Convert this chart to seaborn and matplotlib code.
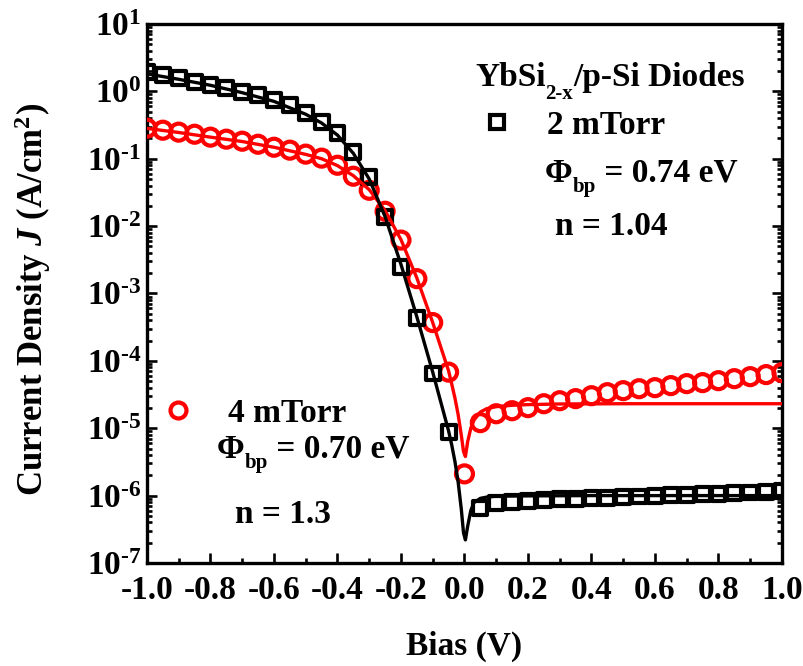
import matplotlib
matplotlib.use("Agg")
import matplotlib.pyplot as plt
import seaborn as sns
import pandas as pd
from matplotlib.lines import Line2D
from matplotlib.ticker import LogLocator, MultipleLocator, NullFormatter

# ---------------- data ----------------
bias_2mT = [-1.0, -0.95, -0.9, -0.85, -0.8, -0.75, -0.7, -0.65, -0.6, -0.55,
            -0.5, -0.45, -0.4, -0.35, -0.3, -0.25, -0.2, -0.15, -0.1, -0.05,
            0.05, 0.1, 0.15, 0.2, 0.25, 0.3, 0.35, 0.4, 0.45, 0.5,
            0.55, 0.6, 0.65, 0.7, 0.75, 0.8, 0.85, 0.9, 0.95, 1.0]
J_2mT = [1.93, 1.75, 1.57, 1.37, 1.24, 1.12, 0.975, 0.88, 0.74, 0.625,
         0.475, 0.35, 0.24, 0.125, 0.054, 0.0138, 2.5e-3, 4.3e-4, 6.5e-5, 8.9e-6,
         6.6e-7, 7.7e-7, 8.1e-7, 8.4e-7, 8.6e-7, 8.8e-7, 8.9e-7, 9.1e-7, 9.3e-7, 9.5e-7,
         9.7e-7, 9.9e-7, 1.01e-6, 1.03e-6, 1.05e-6, 1.07e-6, 1.09e-6, 1.11e-6, 1.13e-6, 1.16e-6]

bias_4mT = [-1.0, -0.95, -0.9, -0.85, -0.8, -0.75, -0.7, -0.65, -0.6, -0.55,
            -0.5, -0.45, -0.4, -0.35, -0.3, -0.25, -0.2, -0.15, -0.1, -0.05, 0.0,
            0.05, 0.1, 0.15, 0.2, 0.25, 0.3, 0.35, 0.4, 0.45, 0.5,
            0.55, 0.6, 0.65, 0.7, 0.75, 0.8, 0.85, 0.9, 0.95, 1.0]
J_4mT = [0.284, 0.265, 0.248, 0.231, 0.209, 0.195, 0.182, 0.164, 0.148, 0.134,
         0.117, 0.102, 0.080, 0.055, 0.034, 0.0166, 6.2e-3, 1.66e-3, 3.7e-4, 6.8e-5, 2.1e-6,
         1.21e-5, 1.64e-5, 1.82e-5, 2.02e-5, 2.31e-5, 2.56e-5, 2.75e-5, 3.04e-5, 3.37e-5, 3.61e-5,
         3.86e-5, 4.0e-5, 4.29e-5, 4.59e-5, 4.75e-5, 5.08e-5, 5.44e-5, 5.83e-5, 6.25e-5, 6.68e-5]

fit_bias_2mT = [-1.0, -0.9, -0.8, -0.7, -0.6, -0.5, -0.45, -0.4, -0.35, -0.3, -0.25,
                -0.2, -0.15, -0.1, -0.05, -0.04, -0.03, -0.02, -0.01, -0.003,
                0.003, 0.01, 0.02, 0.03, 0.05, 0.07, 0.1, 0.2, 0.4, 0.6, 0.8, 1.0]
fit_J_2mT = [1.82, 1.51, 1.23, 0.955, 0.71, 0.457, 0.339, 0.224, 0.12, 0.050, 0.0138,
             2.7e-3, 4.5e-4, 6.8e-5, 9.1e-6, 5.6e-6, 3.2e-6, 1.6e-6, 6.3e-7, 2.8e-7,
             2.2e-7, 3.5e-7, 6.0e-7, 7.9e-7, 9.1e-7, 9.5e-7, 9.8e-7, 9.9e-7, 1.0e-6, 1.0e-6, 1.0e-6, 1.0e-6]

fit_bias_4mT = [-1.0, -0.9, -0.8, -0.7, -0.6, -0.5, -0.45, -0.4, -0.35, -0.3, -0.25,
                -0.2, -0.15, -0.1, -0.05, -0.04, -0.03, -0.02, -0.01, -0.003,
                0.003, 0.01, 0.02, 0.03, 0.05, 0.07, 0.1, 0.15, 0.2, 0.3, 0.5, 1.0]
fit_J_4mT = [0.282, 0.245, 0.209, 0.18, 0.148, 0.116, 0.1, 0.079, 0.056, 0.0347, 0.017,
             6.3e-3, 1.7e-3, 3.7e-4, 7.1e-5, 4.5e-5, 2.8e-5, 1.6e-5, 7.9e-6, 4.5e-6,
             3.8e-6, 6.3e-6, 1.0e-5, 1.32e-5, 1.74e-5, 1.95e-5, 2.09e-5, 2.19e-5, 2.24e-5, 2.29e-5, 2.31e-5, 2.31e-5]

xtick_values = [-1.0, -0.8, -0.6, -0.4, -0.2, 0.0, 0.2, 0.4, 0.6, 0.8, 1.0]
xtick_labels = ["-1.0", "-0.8", "-0.6", "-0.4", "-0.2", "0.0", "0.2", "0.4", "0.6", "0.8", "1.0"]
ytick_values = [1e-7, 1e-6, 1e-5, 1e-4, 1e-3, 1e-2, 1e-1, 1e0, 1e1]
ytick_labels = [r"$10^{\text{-}7}$", r"$10^{\text{-}6}$", r"$10^{\text{-}5}$", r"$10^{\text{-}4}$",
                r"$10^{\text{-}3}$", r"$10^{\text{-}2}$", r"$10^{\text{-}1}$", r"$10^{0}$", r"$10^{1}$"]

# ---------------- style ----------------
sns.set_theme(style="ticks")
plt.rcParams.update({
    "font.family": ["Liberation Serif", "DejaVu Serif"],
    "font.weight": "bold",
    "axes.labelweight": "bold",
    "text.color": "black",
    "axes.labelcolor": "black",
    "axes.edgecolor": "black",
    "xtick.color": "black",
    "ytick.color": "black",
    "mathtext.fontset": "custom",
    "mathtext.rm": "Liberation Serif:bold",
    "mathtext.bf": "Liberation Serif:bold",
    "mathtext.it": "Liberation Serif:italic:bold",
    "mathtext.default": "rm",
})

FS = 24
SUB = 15
fig = plt.figure(figsize=(8.04, 6.66), dpi=100)
ax = fig.add_axes([0.1828, 0.1547, 0.7898, 0.8093])

df4 = pd.DataFrame({"bias": bias_4mT, "J": J_4mT})
df2 = pd.DataFrame({"bias": bias_2mT, "J": J_2mT})
fit4 = pd.DataFrame({"bias": fit_bias_4mT, "J": fit_J_4mT})
fit2 = pd.DataFrame({"bias": fit_bias_2mT, "J": fit_J_2mT})

sns.scatterplot(data=df4, x="bias", y="J", marker="o", s=150, ax=ax, zorder=3)
c4 = ax.collections[-1]
c4.set_facecolor("none"); c4.set_edgecolor("#ff0000"); c4.set_linewidth(3.0)
sns.scatterplot(data=df2, x="bias", y="J", marker="s", s=100, ax=ax, zorder=3)
c2 = ax.collections[-1]
c2.set_facecolor("none"); c2.set_edgecolor("black"); c2.set_linewidth(3.0)
sns.lineplot(data=fit4, x="bias", y="J", color="#ff0000", linewidth=2.4,
             estimator=None, sort=False, ax=ax, zorder=4)
sns.lineplot(data=fit2, x="bias", y="J", color="black", linewidth=2.4,
             estimator=None, sort=False, ax=ax, zorder=4)

ax.set_yscale("log")
ax.set_xlim(-1.0, 1.0)
ax.set_ylim(1e-7, 1e1)

ax.set_xticks(xtick_values)
ax.set_xticklabels(xtick_labels)
ax.xaxis.set_minor_locator(MultipleLocator(0.1))
ax.set_yticks(ytick_values)
ax.set_yticklabels(ytick_labels)
ax.yaxis.set_minor_locator(LogLocator(base=10, subs=range(2, 10), numticks=20))
ax.yaxis.set_minor_formatter(NullFormatter())

for sp in ax.spines.values():
    sp.set_linewidth(2.4)
    sp.set_color("black")
ax.tick_params(which="both", direction="in", top=False, right=True, width=1.9, color="black")
ax.tick_params(which="major", length=7.5)
ax.tick_params(which="minor", length=3.8)
ax.tick_params(axis="x", which="major", labelsize=FS, pad=9)
ax.tick_params(axis="y", which="major", labelsize=FS, pad=4)
for lab in ax.get_xticklabels() + ax.get_yticklabels():
    lab.set_fontweight("bold")
    lab.set_color("black")

ax.set_xlabel("Bias (V)", fontsize=FS, fontweight="bold")
ax.set_ylabel(r"Current Density $\mathit{J}$ (A/cm$^{2}$)", fontsize=25, fontweight="bold")
ax.xaxis.set_label_coords(0.5, -0.125)
ax.yaxis.set_label_coords(-0.148, 0.488)

# legends
h2 = Line2D([], [], marker="s", linestyle="none", markersize=9.5, markerfacecolor="none",
            markeredgecolor="black", markeredgewidth=3.0)
h4 = Line2D([], [], marker="o", linestyle="none", markersize=11.5, markerfacecolor="none",
            markeredgecolor="#ff0000", markeredgewidth=3.0)
fig.legend(handles=[h2], labels=["2 mTorr"], loc="center left",
           bbox_to_anchor=(480 / 804, 1 - 125 / 666), frameon=False, fontsize=FS,
           borderpad=0, borderaxespad=0, handlelength=1.0, handletextpad=1.0)
fig.legend(handles=[h4], labels=["4 mTorr"], loc="center left",
           bbox_to_anchor=(161 / 804, 1 - 413 / 666), frameon=False, fontsize=FS,
           borderpad=0, borderaxespad=0, handlelength=1.0, handletextpad=1.0)

renderer = fig.canvas.get_renderer()


def chain_text(x_px, y_px, pieces):
    """pieces: list of (string, fontsize, drop_px) placed one after another."""
    x = x_px
    for s, fs, drop in pieces:
        t = fig.text(x / 804, 1 - (y_px + drop) / 666, s, fontsize=fs,
                     fontweight="bold", ha="left", va="baseline", color="black")
        x = t.get_window_extent(renderer).x1


chain_text(475, 86, [("YbSi", FS, 0), ("2-x", SUB, 13), ("/p-Si Diodes", FS, 0)])
chain_text(545, 182, [("\u03a6", FS, 0), ("bp", SUB, 10), (" = 0.74 eV", FS, 0)])
chain_text(555, 235, [("n = 1.04", FS, 0)])
chain_text(217, 458, [("\u03a6", FS, 0), ("bp", SUB, 10), (" = 0.70 eV", FS, 0)])
chain_text(235, 523, [("n = 1.3", FS, 0)])

fig.savefig("out.png", dpi=100)
